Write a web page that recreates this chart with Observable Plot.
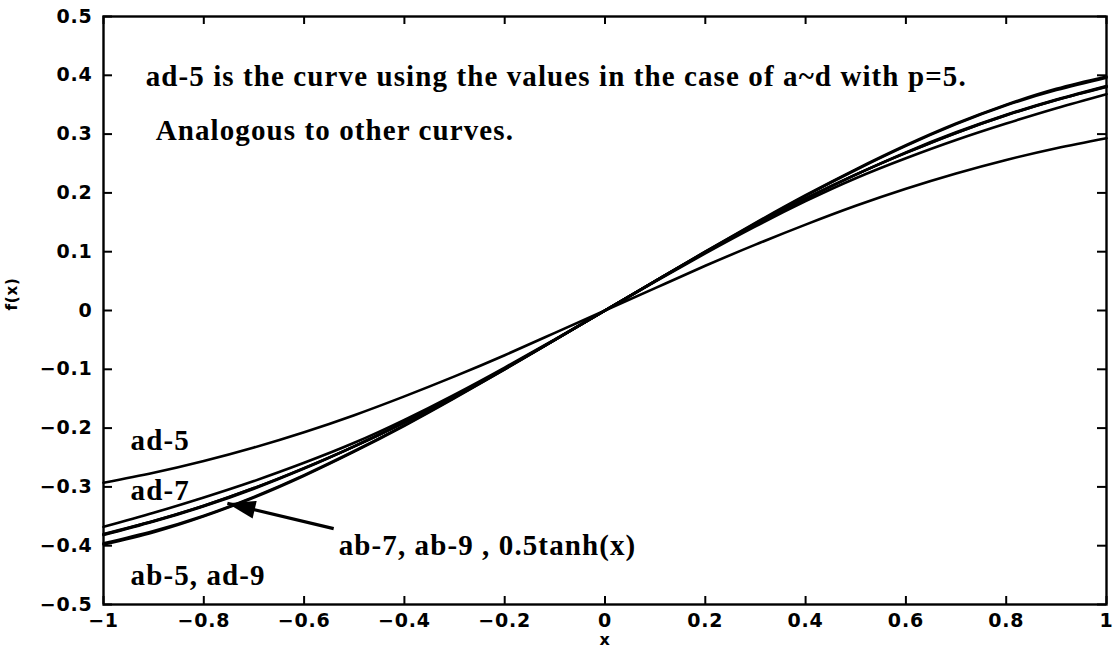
<!DOCTYPE html>
<html>
<head>
<meta charset="utf-8">
<script src="https://cdn.jsdelivr.net/npm/d3@7"></script>
<script src="https://cdn.jsdelivr.net/npm/@observablehq/plot@0.6"></script>
<style>
  html, body { margin: 0; padding: 0; background: #fff; }
  #chart svg { display: block; }
  /* wider spacing for the serif annotations and the tick labels */
  #chart g[font-family="Liberation Serif"] text { letter-spacing: 1.1px; }
  #chart g[font-family="DejaVu Sans"] text { letter-spacing: 0.8px; }
</style>
</head>
<body>
<div id="chart"></div>
<script>
// Sample positions along x
const xs = [-1, -0.9, -0.8, -0.7, -0.6, -0.5, -0.4, -0.3, -0.2, -0.1, 0,
            0.1, 0.2, 0.3, 0.4, 0.5, 0.6, 0.7, 0.8, 0.9, 1];

// Curve values f(x) at each sample position
const ad5  = [-0.293, -0.276, -0.256, -0.233, -0.207, -0.178, -0.146, -0.112, -0.076, -0.038, 0,
               0.038,  0.076,  0.112,  0.146,  0.178,  0.207,  0.233,  0.256,  0.276,  0.293];
const ad7  = [-0.368, -0.344, -0.318, -0.290, -0.259, -0.225, -0.186, -0.143, -0.097, -0.049, 0,
               0.049,  0.097,  0.143,  0.186,  0.225,  0.259,  0.290,  0.318,  0.344,  0.368];
const ab7  = [-0.382, -0.359, -0.333, -0.303, -0.269, -0.231, -0.190, -0.146, -0.099, -0.050, 0,
               0.050,  0.099,  0.146,  0.190,  0.231,  0.269,  0.303,  0.333,  0.359,  0.382];
const ab9  = [-0.380, -0.358, -0.332, -0.302, -0.268, -0.231, -0.190, -0.146, -0.099, -0.050, 0,
               0.050,  0.099,  0.146,  0.190,  0.231,  0.268,  0.302,  0.332,  0.358,  0.380];
const tanh = [-0.381, -0.358, -0.332, -0.302, -0.268, -0.231, -0.190, -0.146, -0.099, -0.050, 0,
               0.050,  0.099,  0.146,  0.190,  0.231,  0.268,  0.302,  0.332,  0.358,  0.381];
const ab5  = [-0.398, -0.377, -0.350, -0.318, -0.281, -0.240, -0.196, -0.149, -0.100, -0.050, 0,
               0.050,  0.100,  0.149,  0.196,  0.240,  0.281,  0.318,  0.350,  0.377,  0.398];
const ad9  = [-0.396, -0.375, -0.349, -0.317, -0.280, -0.239, -0.195, -0.148, -0.100, -0.050, 0,
               0.050,  0.100,  0.148,  0.195,  0.239,  0.280,  0.317,  0.349,  0.375,  0.396];

const seriesNames = ["ad-5", "ad-7", "ab-7", "ab-9", "0.5tanh(x)", "ab-5", "ad-9"];
const seriesValues = [ad5, ad7, ab7, ab9, tanh, ab5, ad9];

// Axis ticks
const xTicks = [-1, -0.8, -0.6, -0.4, -0.2, 0, 0.2, 0.4, 0.6, 0.8, 1];
const yTicks = [-0.5, -0.4, -0.3, -0.2, -0.1, 0, 0.1, 0.2, 0.3, 0.4, 0.5];

// Annotations (text, x, y)
const notes = [
  {text: "ad-5 is the curve using the values in the case of a~d with p=5.", x: -0.916, y: 0.398},
  {text: "Analogous to other curves.", x: -0.896, y: 0.306},
  {text: "ad-5", x: -0.946, y: -0.221},
  {text: "ad-7", x: -0.946, y: -0.306},
  {text: "ab-5, ad-9", x: -0.946, y: -0.451},
  {text: "ab-7, ab-9 , 0.5tanh(x)", x: -0.531, y: -0.400}
];

// Pointer from the label to the overlapping curves
const pointer = [{x1: -0.541, y1: -0.371, x2: -0.753, y2: -0.328}];

// Long table for the line mark
const rows = [];
seriesNames.forEach((name, i) => {
  xs.forEach((x, j) => rows.push({series: name, x, y: seriesValues[i][j]}));
});

const minus = v => (v < 0 ? "\u2212" : "") + String(Math.abs(v));

// Slender filled arrowhead, tip at the origin pointing up
const arrowHead = {
  draw(context) {
    context.moveTo(0, 0);
    context.lineTo(-9, 28);
    context.lineTo(9, 28);
    context.closePath();
  }
};

const tickFont = {fontFamily: "DejaVu Sans", fontWeight: "bold", fontSize: 19};
const serif = {fontFamily: "Liberation Serif", fontWeight: "bold", fontSize: 29};

const chart = Plot.plot({
  width: 1113,
  height: 653,
  marginLeft: 103,
  marginRight: 7,
  marginTop: 16,
  marginBottom: 49,
  x: {domain: [-1, 1]},
  y: {domain: [-0.5, 0.5]},
  style: {background: "white", color: "black"},
  marks: [
    Plot.line(rows, {x: "x", y: "y", z: "series", stroke: "black", strokeWidth: 2.6, curve: "natural"}),
    // inward ticks on all four sides
    Plot.tickX(xTicks, {x: d => d, insetTop: 580, stroke: "black", strokeWidth: 2}),
    Plot.tickX(xTicks, {x: d => d, insetBottom: 580, stroke: "black", strokeWidth: 2}),
    Plot.tickY(yTicks, {y: d => d, insetRight: 994, stroke: "black", strokeWidth: 2}),
    Plot.tickY(yTicks, {y: d => d, insetLeft: 994, stroke: "black", strokeWidth: 2}),
    Plot.frame({stroke: "black", strokeWidth: 2.4}),
    Plot.axisX(xTicks, {anchor: "bottom", tickSize: 0, tickPadding: 9, tickFormat: minus, label: null, ...tickFont}),
    Plot.axisY(yTicks, {anchor: "left", tickSize: 0, tickPadding: 11, tickFormat: minus, label: null, ...tickFont}),
    Plot.text(["x"], {frameAnchor: "bottom", dy: 40, fontFamily: "DejaVu Sans", fontWeight: "bold", fontSize: 16}),
    Plot.text(["f(x)"], {frameAnchor: "left", dx: -91, rotate: -90, fontFamily: "DejaVu Sans", fontWeight: "bold", fontSize: 15}),
    Plot.text(notes, {x: "x", y: "y", text: "text", textAnchor: "start", ...serif}),
    Plot.link(pointer, {x1: "x1", y1: "y1", x2: "x2", y2: "y2", stroke: "black", strokeWidth: 3.2}),
    Plot.dot(pointer, {x: "x2", y: "y2", symbol: arrowHead, rotate: -77, fill: "black", stroke: "none"})
  ]
});

document.getElementById("chart").appendChild(chart);
</script>
</body>
</html>
